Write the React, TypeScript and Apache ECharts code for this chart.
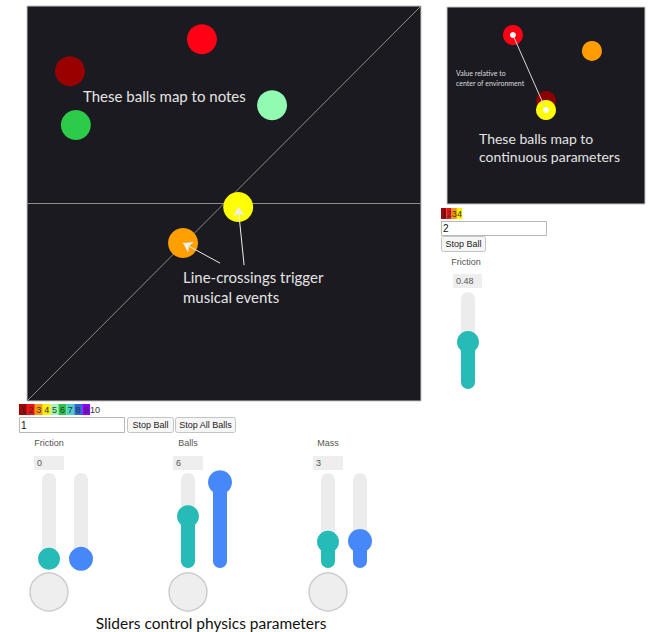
import React, { useEffect, useRef } from "react";
import * as echarts from "echarts";

// ---- data ----
// main environment balls (normalised environment coordinates 0..1)
const mainBallPos = [
  [0.109, 0.835],
  [0.444, 0.916],
  [0.622, 0.749],
  [0.124, 0.699],
  [0.536, 0.491],
  [0.396, 0.4],
];
const mainBallColors = ["#990000", "#ff0014", "#92fbb2", "#2ccb4a", "#ffff00", "#ffa000"];
// crossing lines of main environment
const mainLines = [
  [[0, 0], [1, 1]],
  [[0, 0.5], [1, 0.5]],
];
// annotation arrows: start point -> target ball index
const arrowStarts = [[0.551, 0.344], [0.49, 0.349]];
const arrowTargets = [4, 5];

// continuous-parameter environment balls
const envBallPos = [
  [0.333, 0.858],
  [0.732, 0.777],
  [0.5, 0.523],
  [0.5, 0.477],
];
const envBallColors = ["#ff0014", "#ff9c00", "#8b0000", "#ffff00"];
const envMarked = [0, 3];

// colour key of balls
const noteKeys = ["1", "2", "3", "4", "5", "6", "7", "8", "9", "10"];
const noteKeyColors = ["#a00000", "#ee1111", "#ff9900", "#ffee00", "#a6f5b0", "#2cc44c", "#4cd0c8", "#2c68d8", "#8a00ff", ""];
const envKeys = ["1", "2", "3", "4"];

// sliders
const sliderLabels = ["Friction", "Balls", "Mass"];
const sliderShown = ["0", "6", "3"];
const sliderMin = [0, 1, 1];
const sliderMax = [1, 10, 10];
const frictionValues = [0, 0];
const ballsValues = [6, 10];
const massValues = [3, 3.1];
const envFrictionValues = [0.48];

const TEAL = "#27bbb8";
const BLUE = "#4688fa";
const UI_FONT = "'Liberation Sans', Arial, sans-serif";
const NOTE_FONT = "Lato, 'Open Sans', sans-serif";

const TRACK_MIN = -0.12;
const TRACK_MAX = 1.12;

function sliderSeries(gridIdx: number, values: number[], min: number, max: number, withBase: boolean) {
  return {
    type: "custom",
    coordinateSystem: "cartesian2d",
    xAxisIndex: gridIdx,
    yAxisIndex: gridIdx,
    clip: false,
    z: 5,
    data: values.map((v, i) => [i, (v - min) / (max - min)]),
    renderItem: (params: any, api: any) => {
      const i = api.value(0);
      const v = api.value(1);
      const knob = api.coord([i, v]);
      const top = api.coord([i, TRACK_MAX]);
      const bot = api.coord([i, TRACK_MIN]);
      const w = 14;
      const color = i === 0 ? TEAL : BLUE;
      const r = i === 0 ? 11 : 12;
      const children: any[] = [
        { type: "rect", shape: { x: knob[0] - w / 2, y: top[1], width: w, height: bot[1] - top[1], r: w / 2 }, style: { fill: "#ececec" } },
        { type: "rect", shape: { x: knob[0] - w / 2, y: knob[1], width: w, height: Math.max(bot[1] - knob[1], 1), r: w / 2 }, style: { fill: color } },
        { type: "circle", shape: { cx: knob[0], cy: knob[1], r }, style: { fill: color } },
      ];
      if (withBase && i === 0) {
        children.push({ type: "circle", shape: { cx: knob[0], cy: bot[1] + 24, r: 19 }, style: { fill: "#eeeeee", stroke: "#cdcdcd", lineWidth: 1.5 } });
      }
      return { type: "group", children };
    },
  };
}

export default function App() {
  const ref = useRef<HTMLDivElement>(null);
  useEffect(() => {
    if (!ref.current) return;
    const chart = echarts.init(ref.current, undefined, { renderer: "svg" });

    // slider grid layout
    const sliderGridLeft = [33, 172, 312];
    const sliderTop = 473;
    const sliderH = 95;
    const envSliderLeft = 452;

    const grids: any[] = [
      { left: 27, top: 6, width: 394, height: 395, show: true, backgroundColor: "#1b1a20", borderColor: "#c4c4c4", borderWidth: 1 },
      { left: 447, top: 7, width: 198, height: 197, show: true, backgroundColor: "#1b1a20", borderColor: "#c4c4c4", borderWidth: 1 },
      ...sliderGridLeft.map((l) => ({ left: l, top: sliderTop, width: 64, height: sliderH })),
      { left: envSliderLeft, top: 292, width: 32, height: 97 },
    ];
    const xAxes: any[] = grids.map((_, i) =>
      i < 2
        ? { type: "value", gridIndex: i, min: 0, max: 1, show: false }
        : { type: "category", gridIndex: i, data: i === 5 ? ["a"] : ["a", "b"], show: false, boundaryGap: true }
    );
    const yAxes: any[] = grids.map((_, i) =>
      i < 2
        ? { type: "value", gridIndex: i, min: 0, max: 1, show: false }
        : { type: "value", gridIndex: i, min: TRACK_MIN, max: TRACK_MAX, show: false }
    );

    const g: any[] = [];
    const txt = (x: number, y: number, text: string, font: string, fill: string, align = "left") => ({
      type: "text",
      x,
      y,
      z: 100,
      style: { text, font, fill, textAlign: align, textVerticalAlign: "middle", align, verticalAlign: "middle" },
    });
    const rect = (x: number, y: number, w: number, h: number, fill: string, stroke?: string, r = 0) => ({
      type: "rect",
      z: 100,
      shape: { x, y, width: w, height: h, r },
      style: { fill, stroke: stroke || "none", lineWidth: 1 },
    });

    // annotations
    g.push(txt(83, 96, "These balls map to notes", "15px " + NOTE_FONT, "#e4e4e4"));
    g.push(txt(183, 277, "Line-crossings trigger", "15px " + NOTE_FONT, "#e4e4e4"));
    g.push(txt(183, 297, "musical events", "15px " + NOTE_FONT, "#e4e4e4"));
    g.push(txt(456, 73, "Value relative to", "7px " + NOTE_FONT, "#dddddd"));
    g.push(txt(456, 83, "center of environment", "7px " + NOTE_FONT, "#dddddd"));
    g.push(txt(479, 138, "These balls map to", "14px " + NOTE_FONT, "#e4e4e4"));
    g.push(txt(479, 156, "continuous parameters", "14px " + NOTE_FONT, "#e4e4e4"));
    g.push(txt(211, 623, "Sliders control physics parameters", "15.5px " + NOTE_FONT, "#111111", "center"));

    // colour keys
    noteKeys.forEach((k, i) => {
      const x = 19 + i * 7.9;
      if (noteKeyColors[i]) g.push(rect(x, 404, 7.9, 11, noteKeyColors[i]));
      g.push(txt(x + (k.length > 1 ? 5 : 3.95), 410, k, "9px " + UI_FONT, "#333333", "center"));
    });
    envKeys.forEach((k, i) => {
      const x = 441 + i * 5.3;
      g.push(rect(x, 208, 5.3, 11, noteKeyColors[i]));
      g.push(txt(x + 2.65, 214, k, "9px " + UI_FONT, "#333333", "center"));
    });

    // inputs and buttons
    g.push(rect(19.5, 417.5, 105, 15, "#ffffff", "#b9b9b9"));
    g.push(txt(21, 425, "1", "10px " + UI_FONT, "#111111"));
    g.push(rect(127.5, 417.5, 46, 15, "#f6f6f6", "#c4c4c4", 2));
    g.push(txt(150.5, 425, "Stop Ball", "9px " + UI_FONT, "#222222", "center"));
    g.push(rect(175.5, 417.5, 60, 15, "#f6f6f6", "#c4c4c4", 2));
    g.push(txt(205.5, 425, "Stop All Balls", "9px " + UI_FONT, "#222222", "center"));

    g.push(rect(441.5, 221.5, 105, 14, "#ffffff", "#b9b9b9"));
    g.push(txt(443, 228.5, "2", "10px " + UI_FONT, "#111111"));
    g.push(rect(441.5, 236.5, 44, 15, "#f6f6f6", "#c4c4c4", 2));
    g.push(txt(463.5, 244, "Stop Ball", "9px " + UI_FONT, "#222222", "center"));

    // slider labels and value boxes
    sliderLabels.forEach((lab, i) => {
      const cx = sliderGridLeft[i] + 16;
      g.push(txt(cx, 443, lab, "9px " + UI_FONT, "#555555", "center"));
      g.push(rect(cx - 15, 456, 30, 14, "#eeeeee"));
      g.push(txt(cx - 12, 463, sliderShown[i], "9px " + UI_FONT, "#555555"));
    });
    {
      const cx = envSliderLeft + 16;
      g.push(txt(cx - 2, 262, "Friction", "9px " + UI_FONT, "#555555", "center"));
      g.push(rect(cx - 15, 274, 29, 14, "#eeeeee"));
      g.push(txt(cx - 12, 281, String(envFrictionValues[0]), "9px " + UI_FONT, "#555555"));
    }

    const series: any[] = [
      {
        type: "lines",
        coordinateSystem: "cartesian2d",
        xAxisIndex: 0,
        yAxisIndex: 0,
        z: 2,
        symbol: ["none", "none"],
        lineStyle: { color: "#8c8c8c", width: 1, opacity: 1 },
        data: mainLines.map((c) => ({ coords: c })),
      },
      {
        type: "scatter",
        xAxisIndex: 0,
        yAxisIndex: 0,
        symbolSize: 30,
        z: 3,
        data: mainBallPos.map((p, i) => ({ value: p, itemStyle: { color: mainBallColors[i], opacity: 1 } })),
      },
      {
        type: "lines",
        coordinateSystem: "cartesian2d",
        xAxisIndex: 0,
        yAxisIndex: 0,
        z: 4,
        symbol: ["none", "arrow"],
        symbolSize: 9,
        lineStyle: { color: "#eeeeee", width: 1, opacity: 1 },
        data: arrowStarts.map((s, i) => ({ coords: [s, mainBallPos[arrowTargets[i]]] })),
      },
      {
        type: "scatter",
        xAxisIndex: 1,
        yAxisIndex: 1,
        symbolSize: 20,
        z: 3,
        data: envBallPos.map((p, i) => ({ value: p, itemStyle: { color: envBallColors[i], opacity: 1 } })),
      },
      {
        type: "lines",
        coordinateSystem: "cartesian2d",
        xAxisIndex: 1,
        yAxisIndex: 1,
        z: 4,
        symbol: ["none", "none"],
        lineStyle: { color: "#d8d8d8", width: 1, opacity: 1 },
        data: [{ coords: envMarked.map((i) => envBallPos[i]) }],
      },
      {
        type: "scatter",
        xAxisIndex: 1,
        yAxisIndex: 1,
        symbolSize: 6,
        z: 5,
        itemStyle: { color: "#ffffff", opacity: 1 },
        data: envMarked.map((i) => envBallPos[i]),
      },
      sliderSeries(2, frictionValues, sliderMin[0], sliderMax[0], true),
      sliderSeries(3, ballsValues, sliderMin[1], sliderMax[1], true),
      sliderSeries(4, massValues, sliderMin[2], sliderMax[2], true),
      sliderSeries(5, envFrictionValues, 0, 1, false),
    ];

    chart.setOption({
      animation: false,
      backgroundColor: "#ffffff",
      grid: grids,
      xAxis: xAxes,
      yAxis: yAxes,
      series,
      graphic: { elements: g },
    });
    return () => chart.dispose();
  }, []);
  return <div ref={ref} style={{ position: "absolute", left: 0, top: 0, width: 648, height: 632 }} />;
}
